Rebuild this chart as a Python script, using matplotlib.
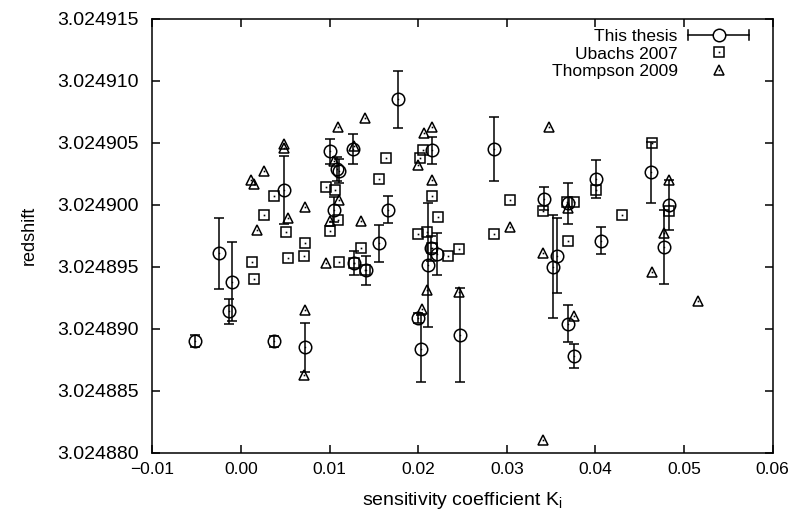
import matplotlib
matplotlib.use("Agg")
import matplotlib.pyplot as plt
from matplotlib.legend_handler import HandlerBase
from matplotlib.lines import Line2D
from matplotlib.ticker import FuncFormatter
import numpy as np

plt.rcParams['font.family'] = ['Liberation Sans', 'DejaVu Sans']
plt.rcParams['mathtext.default'] = 'regular'

# This thesis: K_i, redshift, error (1e-6)
thesis_k = [-0.00516, -0.00252, -0.00102, -0.00132, 0.00376, 0.00726, 0.00489,
            0.01005, 0.01084, 0.01106, 0.01053, 0.01261, 0.01279, 0.01407,
            0.01561, 0.01656, 0.01769, 0.02152, 0.02107, 0.02216, 0.02150,
            0.02001, 0.02032, 0.02472, 0.02856, 0.03420, 0.03694, 0.04007,
            0.04067, 0.04624, 0.04831, 0.04774, 0.03525, 0.03570, 0.03687,
            0.03762]
thesis_z = [3.0248890, 3.0248961, 3.0248938, 3.0248914, 3.0248890, 3.0248885,
            3.0249012, 3.0249043, 3.0249029, 3.0249027, 3.0248996, 3.0249045,
            3.0248953, 3.0248947, 3.0248969, 3.0248996, 3.0249085, 3.0249044,
            3.0248951, 3.0248960, 3.0248965, 3.0248909, 3.0248884, 3.0248895,
            3.0249045, 3.0249005, 3.0249001, 3.0249021, 3.0248971, 3.0249026,
            3.0249000, 3.0248966, 3.0248950, 3.0248959, 3.0248904, 3.0248878]
thesis_err = [0.47, 2.86, 3.2, 1.0, 0.45, 2.0, 2.75, 1.0, 0.95, 0.95, 1.0, 1.2,
              1.0, 1.2, 1.5, 1.1, 2.3, 1.1, 5.0, 1.7, 1.0, 0.4, 2.7, 3.8, 2.55,
              0.9, 1.65, 1.53, 1.1, 2.46, 2.0, 3.0, 4.15, 3.06, 1.5, 1.0]

# Ubachs 2007
ubachs_k = [0.00372, 0.00263, 0.00508, 0.00726, 0.00124, 0.00150, 0.00534,
            0.00711, 0.00956, 0.01061, 0.01001, 0.01093, 0.01106, 0.01351,
            0.01270, 0.01405, 0.01637, 0.01561, 0.02054, 0.02020, 0.02152,
            0.02218, 0.02001, 0.02103, 0.02152, 0.02331, 0.02460, 0.03031,
            0.02856, 0.03412, 0.03685, 0.03764, 0.03688, 0.04010, 0.04304,
            0.04635, 0.04831]
ubachs_z = [3.0249007, 3.0248992, 3.0248978, 3.0248969, 3.0248954, 3.0248940,
            3.0248957, 3.0248959, 3.0249014, 3.0249012, 3.0248979, 3.0248988,
            3.0248954, 3.0248965, 3.0248953, 3.0248947, 3.0249038, 3.0249021,
            3.0249044, 3.0249038, 3.0249007, 3.0248990, 3.0248976, 3.0248978,
            3.0248965, 3.0248959, 3.0248964, 3.0249004, 3.0248976, 3.0248995,
            3.0249002, 3.0249002, 3.0248971, 3.0249012, 3.0248992, 3.0249050,
            3.0248995]

# Thompson 2009
thompson_k = [0.01095, 0.01405, 0.00489, 0.00489, 0.00260, 0.00113, 0.00150,
              0.00717, 0.00534, 0.00184, 0.01047, 0.01104, 0.01005, 0.00959,
              0.00725, 0.00715, 0.01354, 0.01270, 0.02068, 0.02161, 0.02001,
              0.02152, 0.03036, 0.02103, 0.02466, 0.02040, 0.03480, 0.03688,
              0.03412, 0.04774, 0.04831, 0.04635, 0.05155, 0.03761, 0.03412]
thompson_z = [3.0249063, 3.0249070, 3.0249049, 3.0249046, 3.0249027, 3.0249020,
              3.0249017, 3.0248998, 3.0248989, 3.0248980, 3.0249035, 3.0249004,
              3.0248987, 3.0248953, 3.0248915, 3.0248863, 3.0248987, 3.0249047,
              3.0249058, 3.0249063, 3.0249032, 3.0249020, 3.0248982, 3.0248931,
              3.0248930, 3.0248916, 3.0249063, 3.0248997, 3.0248961, 3.0248977,
              3.0249020, 3.0248946, 3.0248922, 3.0248910, 3.0248810]

x_ticks = [-0.01, 0.00, 0.01, 0.02, 0.03, 0.04, 0.05, 0.06]
y_ticks = [3.024880, 3.024885, 3.024890, 3.024895, 3.024900, 3.024905,
           3.024910, 3.024915]

LW = 1.1
MS_C = 9.0
MS_S = 7.5
MS_T = 7.5
fig = plt.figure(figsize=(7.95, 5.19), dpi=100)
ax = fig.add_axes([152.4 / 795, 1 - 452.7 / 519, (772.6 - 152.4) / 795,
                   (452.7 - 18.7) / 519])

# Thompson
ax.plot(thompson_k, thompson_z, linestyle='none', marker='^', markersize=MS_T,
        markerfacecolor='none', markeredgecolor='black', markeredgewidth=LW)
ax.plot(thompson_k, thompson_z, linestyle='none', marker='s', markersize=1.2,
        color='black', markeredgewidth=0)
# Ubachs
ax.plot(ubachs_k, ubachs_z, linestyle='none', marker='s', markersize=MS_S,
        markerfacecolor='none', markeredgecolor='black', markeredgewidth=LW)
ax.plot(ubachs_k, ubachs_z, linestyle='none', marker='s', markersize=1.2,
        color='black', markeredgewidth=0)
# This thesis
ax.errorbar(thesis_k, thesis_z, yerr=np.array(thesis_err) * 1e-6,
            linestyle='none', marker='o', markersize=MS_C,
            markerfacecolor='none', markeredgecolor='black',
            markeredgewidth=LW, ecolor='black', elinewidth=LW, capsize=3.5,
            capthick=LW)
ax.plot(thesis_k, thesis_z, linestyle='none', marker='s', markersize=1.0,
        color='black', markeredgewidth=0)

ax.set_xlim(-0.01, 0.06)
ax.set_ylim(3.024880, 3.024915)
ax.set_xticks(x_ticks)
ax.set_yticks(y_ticks)
ax.xaxis.set_major_formatter(FuncFormatter(
    lambda v, p: ('%.2f' % v).replace('-', '\u2212')))
ax.yaxis.set_major_formatter(FuncFormatter(lambda v, p: '%.6f' % v))
ax.tick_params(direction='in', length=6, width=LW, top=True, right=True)
ax.tick_params(axis='x', labelsize=12.5, pad=7)
ax.tick_params(axis='y', labelsize=14, pad=10)
for s in ax.spines.values():
    s.set_linewidth(LW)

ax.set_xlabel('sensitivity coefficient K$_{i}$', fontsize=14, labelpad=9)
ax.set_ylabel('redshift', fontsize=13, labelpad=14)


class HandlerHErr(HandlerBase):
    def create_artists(self, legend, orig_handle, xdescent, ydescent, width,
                       height, fontsize, trans):
        y = height / 2 - ydescent
        x0, x1 = -xdescent, -xdescent + width
        cap = 3.5
        line = Line2D([x0, x1], [y, y], color='black', lw=LW, transform=trans)
        c0 = Line2D([x0, x0], [y - cap, y + cap], color='black', lw=LW,
                    transform=trans)
        c1 = Line2D([x1, x1], [y - cap, y + cap], color='black', lw=LW,
                    transform=trans)
        m = Line2D([(x0 + x1) / 2], [y], marker='o', markersize=MS_C,
                   markerfacecolor='white', markeredgecolor='black',
                   markeredgewidth=LW, linestyle='none', transform=trans)
        return [line, c0, c1, m]


class HandlerMark(HandlerBase):
    def __init__(self, marker, ms):
        super().__init__()
        self.marker = marker
        self.ms = ms

    def create_artists(self, legend, orig_handle, xdescent, ydescent, width,
                       height, fontsize, trans):
        y = height / 2 - ydescent
        x = -xdescent + width / 2
        m = Line2D([x], [y], marker=self.marker, markersize=self.ms,
                   markerfacecolor='none', markeredgecolor='black',
                   markeredgewidth=LW, linestyle='none', transform=trans)
        d = Line2D([x], [y], marker='s', markersize=1.2, color='black',
                   markeredgewidth=0, linestyle='none', transform=trans)
        return [m, d]


h1 = Line2D([], [])
h2 = Line2D([], [])
h3 = Line2D([], [])
ax.legend([h1, h2, h3], ['This thesis', 'Ubachs 2007', 'Thompson 2009'],
          handler_map={h1: HandlerHErr(), h2: HandlerMark('s', MS_S),
                       h3: HandlerMark('^', MS_T)},
          loc='upper right', bbox_to_anchor=(0.962, 0.976), frameon=False,
          markerfirst=False, borderpad=0, borderaxespad=0, handlelength=3.5,
          handletextpad=0.6, labelspacing=0.12, fontsize=12.5)

fig.savefig('out.png', dpi=100)
